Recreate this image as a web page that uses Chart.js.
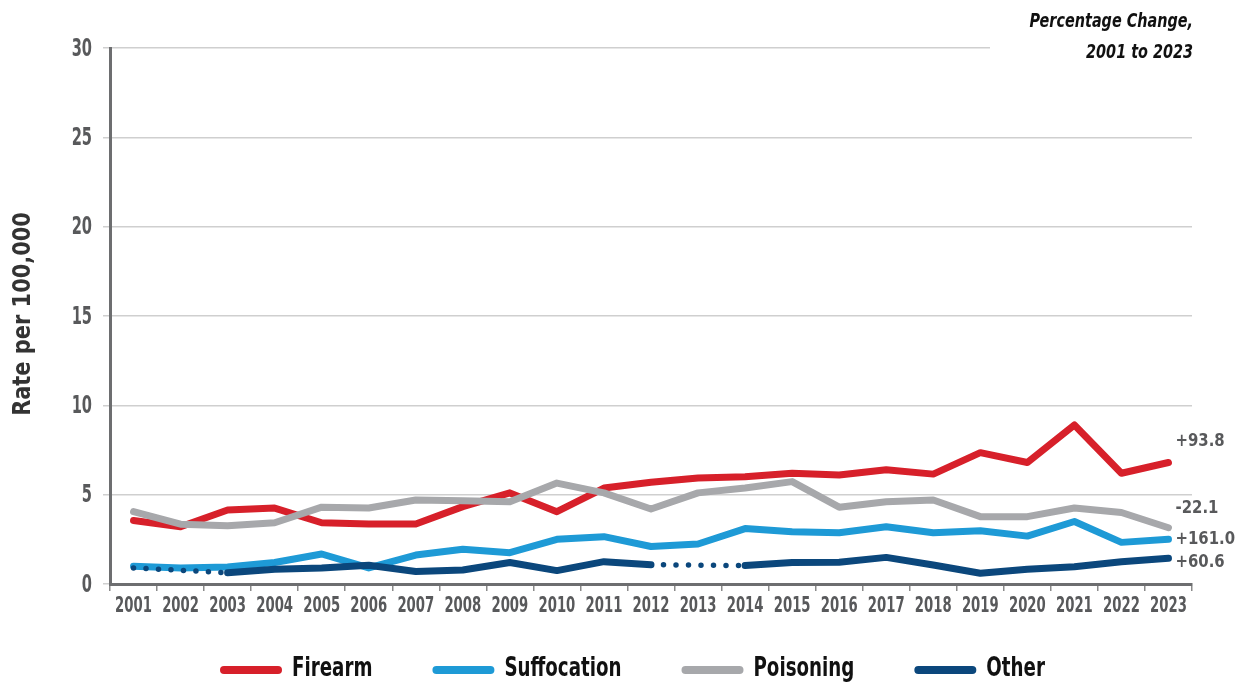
<!DOCTYPE html>
<html>
<head>
<meta charset="utf-8">
<script src="https://cdn.jsdelivr.net/npm/chart.js@4"></script>
<style>
  html, body { margin: 0; padding: 0; background: #fff; }
  #wrap { width: 1237px; height: 682px; }
</style>
</head>
<body>
<div id="wrap"><canvas id="myChart" width="1237" height="682"></canvas></div>
<script>
// data
const years = ["2001","2002","2003","2004","2005","2006","2007","2008","2009","2010","2011","2012",
               "2013","2014","2015","2016","2017","2018","2019","2020","2021","2022","2023"];
const firearm     = [3.55,3.2,4.14,4.25,3.43,3.36,3.36,4.33,5.1,4.05,5.37,5.7,5.93,6.0,6.2,6.1,6.4,6.15,7.35,6.8,8.9,6.2,6.8];
const suffocation = [1.0,0.9,0.95,1.2,1.68,0.9,1.62,1.95,1.75,2.5,2.65,2.1,2.24,3.1,2.93,2.87,3.2,2.87,2.98,2.68,3.5,2.33,2.5];
const poisoning   = [4.05,3.35,3.26,3.43,4.3,4.25,4.7,4.66,4.6,5.65,5.1,4.2,5.1,5.37,5.73,4.3,4.6,4.7,3.77,3.77,4.25,4.0,3.15];
// null = no estimate that year, drawn as a dotted bridge
const other       = [0.9,null,0.63,0.83,0.9,1.05,0.7,0.78,1.2,0.75,1.25,1.08,null,1.03,1.2,1.22,1.49,1.06,0.6,0.82,0.97,1.25,1.44];
const pctChange   = ["+93.8","+161.0","-22.1","+60.6"];
const yTicks      = [0,5,10,15,20,25,30];

const narrow = '"DejaVu Sans Condensed", "DejaVu Sans", sans-serif';

// nudges for the end labels so they don't overlap (pixels)
const labelShift = [-21, 0, -19, 4];

const dotted = (ctx, v) => (ctx.p0.skip || ctx.p1.skip) ? v : undefined;

function makeSet(label, data, color, order){
  return {
    label: label,
    data: data,
    borderColor: color,
    backgroundColor: color,
    borderWidth: 7,
    pointRadius: 0,
    pointHoverRadius: 0,
    tension: 0,
    fill: false,
    spanGaps: true,
    borderCapStyle: "round",
    borderJoinStyle: "round",
    order: order,
    segment: {
      borderDash: ctx => dotted(ctx, [0, 12.5]),
      borderWidth: ctx => dotted(ctx, 5.5)
    }
  };
}

// squeeze text sideways to get closer to the condensed face of the original
function squeezeText(c, text, x, y, sx, rot){
  c.save();
  c.translate(x, y);
  if(rot) c.rotate(rot);
  c.scale(sx, 1);
  c.fillText(text, 0, 0);
  c.restore();
}

const extras = {
  id: "extras",
  afterDraw(chart){
    const c = chart.ctx;
    const area = chart.chartArea;
    const xs = chart.scales.x;
    const ys = chart.scales.y;
    c.save();
    c.textBaseline = "middle";

    // tick labels
    c.fillStyle = "#58595b";
    c.textAlign = "center";
    c.font = "bold 21px " + narrow;
    xs.ticks.forEach((t, i) => {
      squeezeText(c, years[i], xs.getPixelForTick(i), 607, 0.7);
    });
    c.textAlign = "right";
    c.font = "bold 25px " + narrow;
    ys.ticks.forEach(t => {
      squeezeText(c, String(t.value), 92, ys.getPixelForValue(t.value) + 1, 0.65);
    });

    // axis title
    c.textAlign = "center";
    c.fillStyle = "#333";
    c.font = "bold 25px " + narrow;
    squeezeText(c, "Rate per 100,000", 23, 314, 0.93, -Math.PI / 2);

    // header, with a white patch that cuts the top grid line
    c.fillStyle = "#fff";
    c.fillRect(990, area.top - 4, chart.width - 990, 8);
    c.fillStyle = "#111";
    c.textAlign = "right";
    c.font = "italic bold 20px " + narrow;
    squeezeText(c, "Percentage Change,", 1193, 22, 0.8);
    squeezeText(c, "2001 to 2023", 1193, 53, 0.8);

    // end labels
    c.textAlign = "left";
    c.fillStyle = "#58595b";
    c.font = "bold 18px " + narrow;
    chart.data.datasets.forEach((ds, i) => {
      const meta = chart.getDatasetMeta(i);
      const last = meta.data[meta.data.length - 1];
      squeezeText(c, pctChange[i], last.x + 7, last.y + labelShift[i], 0.92);
    });

    // legend
    let x = 220;
    const y = 669;
    c.font = "bold 26px " + narrow;
    c.lineCap = "round";
    chart.data.datasets.forEach(ds => {
      c.strokeStyle = ds.borderColor;
      c.lineWidth = 8;
      c.beginPath();
      c.moveTo(x + 4, y + 1);
      c.lineTo(x + 58, y + 1);
      c.stroke();
      c.fillStyle = "#111";
      squeezeText(c, ds.label, x + 72, y, 0.78);
      x += 72 + c.measureText(ds.label).width * 0.78 + 60;
    });
    c.restore();
  }
};

const hidden = "rgba(0,0,0,0)";

const ctx = document.getElementById("myChart").getContext("2d");
const myChart = new Chart(ctx, {
  type: "line",
  data: {
    labels: years,
    datasets: [
      makeSet("Firearm", firearm, "#d7202a", 3),
      makeSet("Suffocation", suffocation, "#1e9ad6", 2),
      makeSet("Poisoning", poisoning, "#a7a8ab", 1),
      makeSet("Other", other, "#0b477c", 0)
    ]
  },
  options: {
    responsive: false,
    animation: false,
    layout: { padding: { top: 48, right: 45, bottom: 58, left: 0 } },
    plugins: {
      legend: { display: false },
      tooltip: { enabled: false }
    },
    scales: {
      x: {
        offset: true,
        grid: { offset: true, drawOnChartArea: false, tickLength: 7, color: "#8a8a8a", lineWidth: 1.5 },
        border: { color: "#6d6e70", width: 3 },
        ticks: { color: hidden, font: { family: narrow, size: 16, weight: "bold" }, padding: 6, maxRotation: 0, autoSkip: false },
        afterFit: s => { s.height = 40; }
      },
      y: {
        min: 0,
        max: 30,
        afterBuildTicks: s => { s.ticks = yTicks.map(v => ({ value: v })); },
        grid: { color: "#cfcfcf", lineWidth: 1.5, tickLength: 7 },
        border: { color: "#6d6e70", width: 3 },
        ticks: { color: hidden, font: { family: narrow, size: 21, weight: "bold" }, padding: 11 },
        afterFit: s => { s.width = 110; }
      }
    }
  },
  plugins: [extras]
});
</script>
</body>
</html>
